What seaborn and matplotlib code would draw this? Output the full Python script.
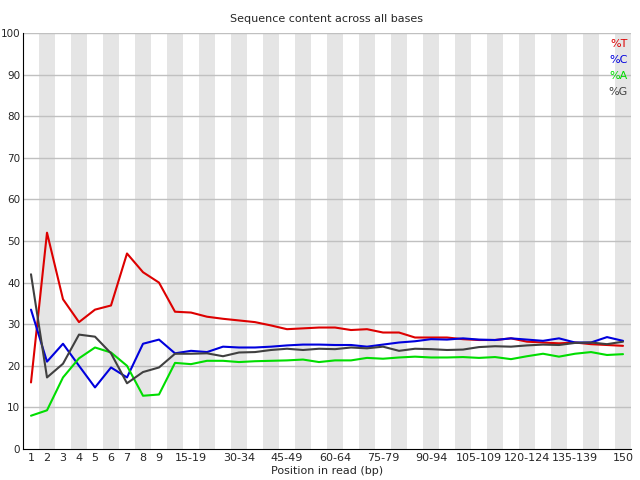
import matplotlib
matplotlib.use("Agg")
import matplotlib.pyplot as plt
import seaborn as sns
import pandas as pd

positions = [str(i) for i in range(1, 10)] + [f"{s}-{s+4}" for s in range(10, 150, 5)] + ["150"]
pct_T = [16, 52, 36, 30.5, 33.5, 34.5, 47, 42.5, 40,
         33, 32.8, 31.8, 31.3, 30.9, 30.5, 29.7, 28.8, 29, 29.2, 29.2, 28.6, 28.8, 28, 28, 26.8, 26.8, 26.8, 26.4,
         26.2, 26.2, 26.6, 25.8, 25.6, 25.4, 25.6, 25.2, 25, 24.8]
pct_C = [33.5, 21, 25.3, 20, 14.8, 19.6, 17.2, 25.3, 26.3,
         23, 23.6, 23.3, 24.6, 24.4, 24.4, 24.6, 24.9, 25.1, 25.1, 25, 25, 24.6, 25.1, 25.6, 25.9, 26.4, 26.3, 26.6,
         26.3, 26.2, 26.6, 26.3, 26, 26.6, 25.6, 25.6, 26.9, 26]
pct_A = [8, 9.3, 17.2, 21.8, 24.4, 23.2, 20, 12.8, 13.1,
         20.7, 20.4, 21.2, 21.2, 20.9, 21.1, 21.2, 21.3, 21.5, 20.9, 21.3, 21.3, 21.9, 21.7, 22, 22.2, 22, 22, 22.1,
         21.9, 22.1, 21.6, 22.3, 22.9, 22.2, 22.9, 23.3, 22.6, 22.8]
pct_G = [42, 17.2, 20.5, 27.5, 27, 23, 15.8, 18.5, 19.6,
         22.9, 22.9, 23, 22.3, 23.2, 23.3, 23.8, 24.1, 23.8, 24.1, 24, 24.4, 24.2, 24.6, 23.6, 24.1, 24, 23.8, 23.9,
         24.5, 24.7, 24.6, 24.9, 25.1, 25, 25.5, 25.6, 25.2, 25.8]

series = {"%T": pct_T, "%C": pct_C, "%A": pct_A, "%G": pct_G}
colors = {"%T": "#dd0000", "%C": "#0000dd", "%A": "#00dd00", "%G": "#404040"}

rows = []
for name, vals in series.items():
    for i, v in enumerate(vals):
        rows.append({"idx": i, "pos": positions[i], "base": name, "value": v})
df = pd.DataFrame(rows)

sns.set_style("white")
fig = plt.figure(figsize=(6.4, 4.8), dpi=100)
ax = fig.add_axes([23/640, 1-449/480, (631-23)/640, (449-33)/480])

n = len(positions)
for i in range(n):
    if i % 2 == 1:
        ax.axvspan(i-0.5, i+0.5, color="#e5e5e5", lw=0, zorder=0)
for y in range(10, 101, 10):
    ax.axhline(y, color="#c0c0c0", lw=1, zorder=1)

sns.lineplot(data=df, x="idx", y="value", hue="base", palette=colors, ax=ax, lw=1.5, legend=False, zorder=3)

ax.set_xlim(-0.5, n-0.5)
ax.set_ylim(0, 100)
ax.set_yticks(range(0, 101, 10))
ax.tick_params(axis="y", labelsize=7.5, length=0, pad=2)
ticks = list(range(9)) + [i for i in range(9, n-1) if (i-10) % 3 == 0] + [n-1]
ax.set_xticks(ticks)
ax.set_xticklabels([positions[i] for i in ticks], fontsize=8)
ax.tick_params(axis="x", length=0, pad=3)
ax.set_xlabel("Position in read (bp)", fontsize=8, labelpad=2)
ax.set_ylabel("")
ax.set_title("Sequence content across all bases", fontsize=8, pad=8)
for s in ["top", "right"]:
    ax.spines[s].set_visible(False)
ax.spines["left"].set_color("black")
ax.spines["bottom"].set_color("black")
for k, name in enumerate(series):
    fig.text(628/640, 1-(44 + k*16)/480, name, color=colors[name], fontsize=8, ha="right", va="center")
fig.savefig("out.png", dpi=100)
